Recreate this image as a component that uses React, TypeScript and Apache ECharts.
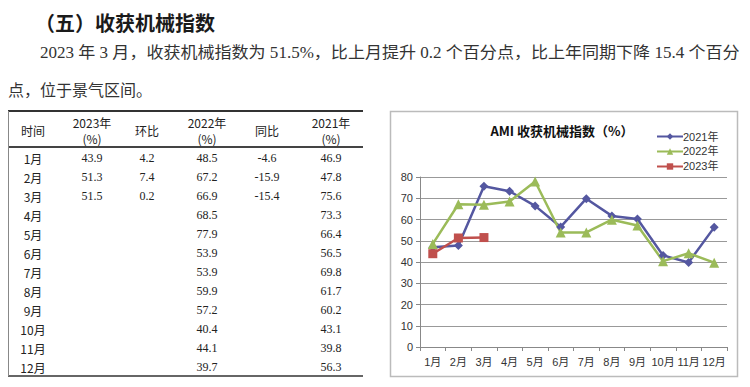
import React, { useEffect, useRef } from "react";
import * as echarts from "echarts";

const months = ["1月", "2月", "3月", "4月", "5月", "6月", "7月", "8月", "9月", "10月", "11月", "12月"];
const v2021 = [46.9, 47.8, 75.6, 73.3, 66.4, 56.5, 69.8, 61.7, 60.2, 43.1, 39.8, 56.3];
const v2022 = [48.5, 67.2, 66.9, 68.5, 77.9, 53.9, 53.9, 59.9, 57.2, 40.4, 44.1, 39.7];
const v2023 = [43.9, 51.3, 51.5];
const mom2023 = ["4.2", "7.4", "0.2"];
const yoy2023 = ["-4.6", "-15.9", "-15.4"];
const yTicks = { min: 0, max: 80, interval: 10 };

const heading = "（五）收获机械指数";
const para1 = "2023 年 3 月，收获机械指数为 51.5%，比上月提升 0.2 个百分点，比上年同期下降 15.4 个百分";
const para2 = "点，位于景气区间。";
const chartTitle = "AMI 收获机械指数（%）";
const seriesNames = ["2021年", "2022年", "2023年"];

const SERIF = '"Liberation Serif", "DejaVu Serif", "Noto Sans CJK SC", serif';
const SANS = '"Liberation Sans", "Noto Sans CJK SC", sans-serif';

export default function App() {
  const ref = useRef<HTMLDivElement>(null);
  useEffect(() => {
    const chart = echarts.init(ref.current!, null, { renderer: "svg" });
    const g: any[] = [];
    const txt = (
      x: number,
      y: number,
      text: string,
      font: string,
      align = "left",
      color = "#222",
      scaleX = 1
    ) =>
      g.push({
        type: "text",
        x,
        y,
        scaleX,
        originX: 0,
        originY: 0,
        style: { text, font, fill: color, textAlign: align, textVerticalAlign: "middle" },
      });

    txt(35, 22, heading, 'bold 20px "Noto Sans CJK SC", sans-serif', "left", "#1a1a1a");
    txt(40, 53, para1, "16px " + SERIF, "left", "#333", 1.065);
    txt(8, 90, para2, "16px " + SERIF, "left", "#333");

    // table lines
    const ln = (x1: number, y1: number, x2: number, y2: number, w: number, c = "#555") =>
      g.push({ type: "line", shape: { x1, y1, x2, y2 }, style: { stroke: c, lineWidth: w } });
    ln(8, 111, 363, 111, 2.2, "#333");
    ln(8, 147, 363, 147, 2.2, "#444");
    ln(8, 376, 363, 376, 2, "#666");
    ln(8.5, 111, 8.5, 376, 1, "#888");

    const tf = '12px "Noto Sans CJK SC", sans-serif';
    const nf = "12px " + SERIF;
    const colX = [33, 92, 147, 207, 267, 331];
    txt(colX[0], 130, "时间", tf, "center");
    txt(colX[1], 122, "2023年", tf, "center");
    txt(colX[1], 138, "(%)", tf, "center");
    txt(colX[2], 130, "环比", tf, "center");
    txt(colX[3], 122, "2022年", tf, "center");
    txt(colX[3], 138, "(%)", tf, "center");
    txt(colX[4], 130, "同比", tf, "center");
    txt(colX[5], 122, "2021年", tf, "center");
    txt(colX[5], 138, "(%)", tf, "center");
    months.forEach((m, i) => {
      const y = 158 + 19 * i;
      txt(colX[0], y, m, tf, "center");
      if (i < v2023.length) {
        txt(colX[1], y, v2023[i].toFixed(1), nf, "center");
        txt(colX[2], y, mom2023[i], nf, "center");
        txt(colX[4], y, yoy2023[i], nf, "center");
      }
      txt(colX[3], y, v2022[i].toFixed(1), nf, "center");
      txt(colX[5], y, v2021[i].toFixed(1), nf, "center");
    });

    // chart frame
    g.push({
      type: "rect",
      z: -10,
      shape: { x: 390.5, y: 111.5, width: 347, height: 265 },
      style: { fill: "#fff", stroke: "#bbb", lineWidth: 1.5 },
    });
    txt(562, 130, chartTitle, 'bold 13px "Noto Sans CJK SC", sans-serif', "center", "#111");

    chart.setOption({
      animation: false,
      backgroundColor: "#fff",
      graphic: g,
      legend: {
        data: seriesNames,
        orient: "vertical",
        left: 651,
        top: 126,
        itemGap: 4,
        itemWidth: 26,
        itemHeight: 8,
        textStyle: { fontSize: 11, fontFamily: SANS, color: "#333", padding: [0, 0, 0, -5] },
      },
      grid: { left: 420, right: 23, top: 177, bottom: 40 },
      xAxis: {
        type: "category",
        data: months,
        boundaryGap: true,
        axisLine: { lineStyle: { color: "#888" } },
        axisTick: { show: true, interval: 0, length: 4, lineStyle: { color: "#888" } },
        axisLabel: { interval: 0, fontSize: 11, fontFamily: SANS, color: "#333", margin: 9 },
      },
      yAxis: {
        type: "value",
        ...yTicks,
        axisLine: { show: true, lineStyle: { color: "#888" } },
        axisTick: { show: true, length: 4, lineStyle: { color: "#888" } },
        axisLabel: { fontSize: 11, fontFamily: SANS, color: "#333", margin: 7 },
        splitLine: { lineStyle: { color: "#999" } },
      },
      series: [
        {
          name: seriesNames[0],
          type: "line",
          data: v2021,
          symbol: "diamond",
          symbolSize: 9,
          color: "#5457A0",
          lineStyle: { width: 2.5 },
        },
        {
          name: seriesNames[1],
          type: "line",
          data: v2022,
          symbol: "triangle",
          symbolSize: 10,
          color: "#9BBB59",
          lineStyle: { width: 2.5 },
        },
        {
          name: seriesNames[2],
          type: "line",
          data: v2023,
          symbol: "rect",
          symbolSize: 9,
          color: "#C0504D",
          lineStyle: { width: 2.5 },
          z: 5,
        },
      ],
    });
    return () => chart.dispose();
  }, []);
  return <div ref={ref} style={{ position: "fixed", left: 0, top: 0, width: 750, height: 387 }} />;
}
